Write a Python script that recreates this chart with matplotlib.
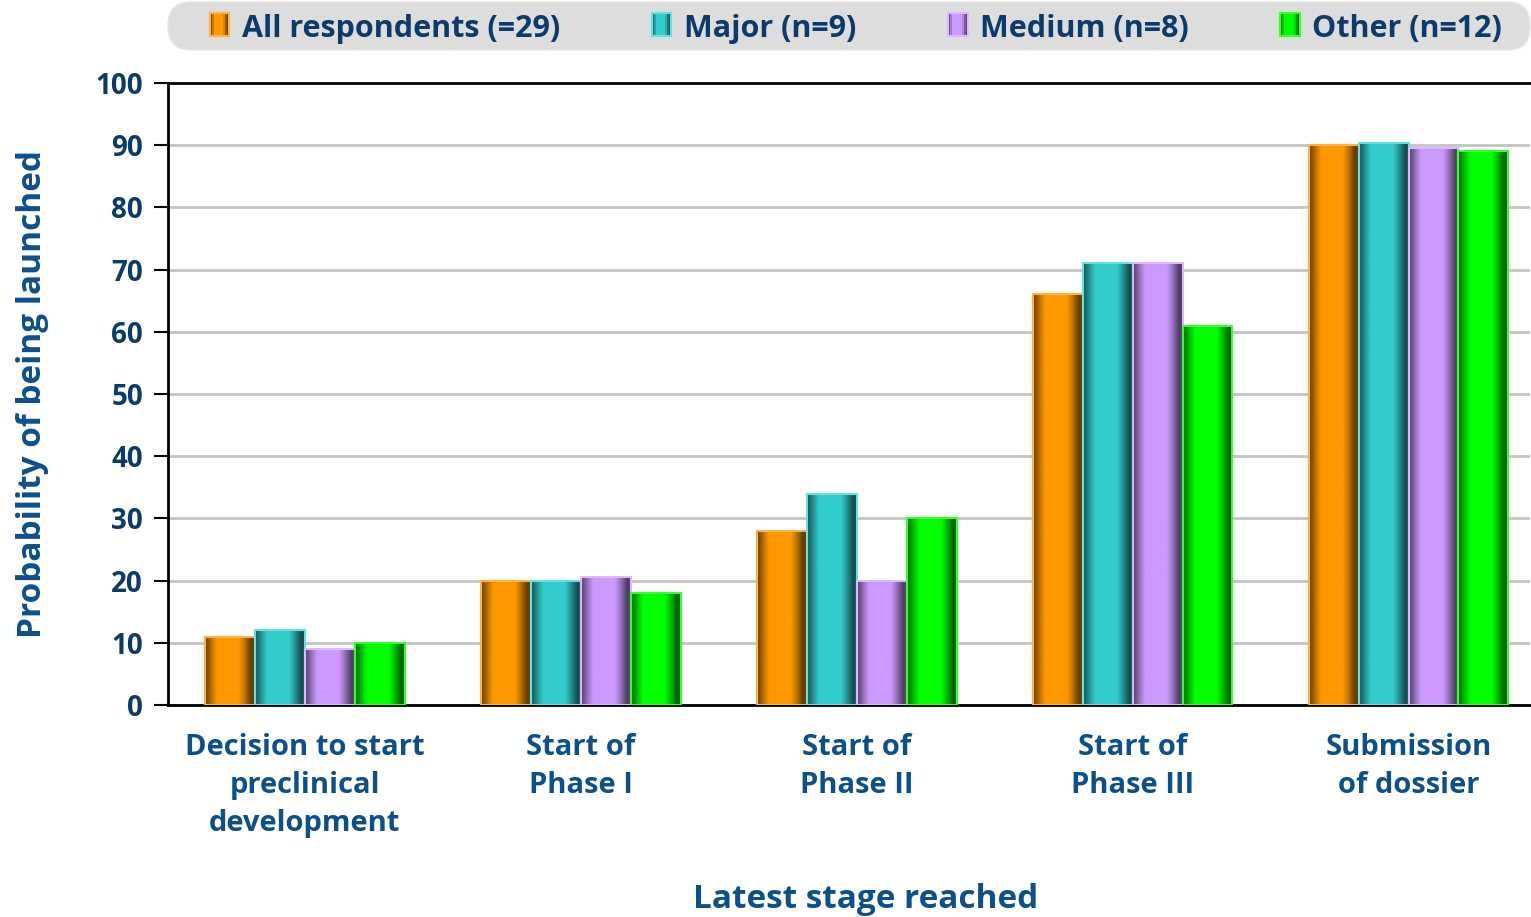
import numpy as np
import matplotlib.pyplot as plt
from matplotlib.patches import Rectangle, FancyBboxPatch
from matplotlib.legend_handler import HandlerBase
from matplotlib.colors import to_rgb
from matplotlib.transforms import IdentityTransform

stages = ["Decision to start\npreclinical\ndevelopment", "Start of\nPhase I",
          "Start of\nPhase II", "Start of\nPhase III", "Submission\nof dossier"]
series = ["All respondents (=29)", "Major (n=9)", "Medium (n=8)", "Other (n=12)"]
all_resp = [11, 20, 28, 66, 90]
major = [12, 20, 34, 71, 90.4]
medium = [9, 20.6, 20, 71, 89.5]
other = [10, 18, 30, 61, 89]
values = [all_resp, major, medium, other]

colors = ["#ff9900", "#33cccc", "#cc99ff", "#00ff00"]
edges = ["#ffb347", "#66e0e0", "#dcb8ff", "#33ff33"]
navy = "#0b3a6b"
blue = "#0d4f8b"

plt.rcParams["font.family"] = ["Open Sans", "DejaVu Sans"]
plt.rcParams["font.weight"] = "bold"


def shade(t):
    # cylinder-like brightness across the bar width
    return 0.40 + 0.60 * np.clip(np.sin(np.pi * np.clip(t * 1.08, 0, 1)) * 1.35, 0, 1)


def grad_img(color, n=64):
    t = np.linspace(0, 1, n)
    rgb = np.array(to_rgb(color))
    return (shade(t)[:, None] * rgb[None, :])[None, :, :]


class GradHandler(HandlerBase):
    def __init__(self, color, edge):
        super().__init__()
        self.color, self.edge = color, edge

    def create_artists(self, legend, orig, xd, yd, w, h, fontsize, trans):
        arts = []
        n = 10
        rgb = np.array(to_rgb(self.color))
        for i in range(n):
            c = np.clip(shade((i + 0.5) / n) * rgb, 0, 1)
            arts.append(Rectangle((xd + w * i / n, yd), w / n, h, facecolor=c,
                                  edgecolor="none", transform=trans))
        arts.append(Rectangle((xd, yd), w, h, facecolor="none", edgecolor=self.edge,
                              linewidth=1.5, transform=trans))
        return arts


fig = plt.figure(figsize=(15.31, 9.17), dpi=100)
ax = fig.add_axes([0.1097, 0.2312, 0.8896, 0.6783])

x = np.arange(len(stages))
width = 0.181
offsets = (np.arange(4) - 1.5) * width
handles = []
for vals, col, ed, off, name in zip(values, colors, edges, offsets, series):
    bars = ax.bar(x + off, vals, width, facecolor="none", edgecolor=ed,
                  linewidth=1.5, zorder=3, label=name)
    img = grad_img(col)
    for r in bars:
        ax.imshow(img, extent=[r.get_x(), r.get_x() + r.get_width(), 0, r.get_height()],
                  aspect="auto", zorder=2.5, interpolation="bilinear")
    handles.append(bars)

ax.set_xlim(-0.496, 4.44)
ax.set_ylim(0, 100)
ax.set_aspect("auto")
ax.set_yticks(np.arange(0, 101, 10))
ax.yaxis.grid(True, color="#c4c4c4", linewidth=2, zorder=0)
ax.set_axisbelow(True)
for s in ["left", "top", "bottom"]:
    ax.spines[s].set_color("black")
    ax.spines[s].set_linewidth(2)
ax.spines["right"].set_visible(False)
ax.tick_params(axis="y", length=10, width=1.5, direction="out", labelsize=20,
               labelcolor=navy, pad=8)
ax.tick_params(axis="x", length=0, labelsize=21, labelcolor=blue, pad=20)
ax.set_xticks(x)
ax.set_xticklabels(stages, linespacing=1.42)
ax.set_ylabel("Probability of being launched", fontsize=24, color=blue,
              fontweight="bold")
ax.yaxis.set_label_coords(-0.087, 0.5)
ax.set_xlabel("Latest stage reached", fontsize=24, color=blue, fontweight="bold")
ax.xaxis.set_label_coords(0.512, -0.286)

bg = FancyBboxPatch((168, 867), 1362, 48, boxstyle="round,pad=0,rounding_size=23",
                    transform=IdentityTransform(), facecolor="#dddddd",
                    edgecolor="#e6e6e6", linewidth=1)
fig.patches.append(bg)

leg = fig.legend(handles, series, loc="center", bbox_to_anchor=(0.559, 0.968),
                 ncol=4, frameon=False, fontsize=22, labelcolor=navy,
                 handlelength=0.65, handleheight=0.8, handletextpad=0.4,
                 columnspacing=3.0,
                 handler_map={h: GradHandler(c, e) for h, c, e in zip(handles, colors, edges)})

fig.savefig("out.png", dpi=100)
